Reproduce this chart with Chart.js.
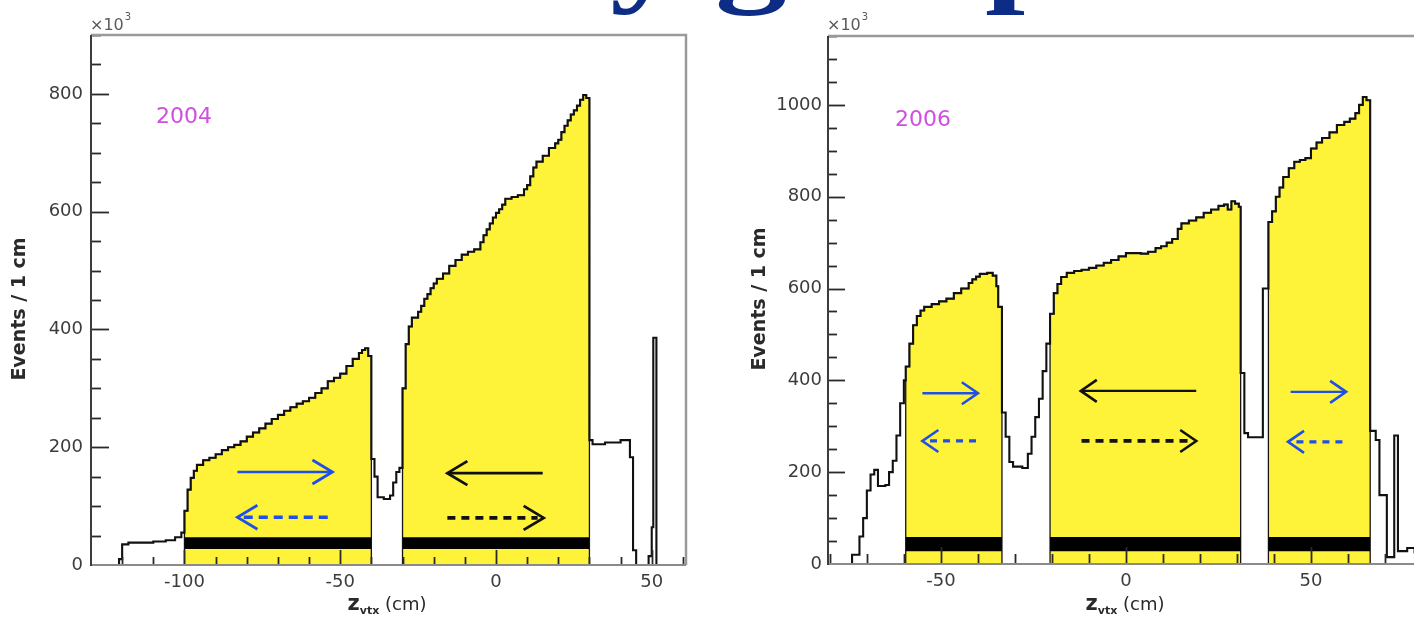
<!DOCTYPE html>
<html>
<head>
<meta charset="utf-8">
<title>z_vtx distributions 2004 / 2006</title>
<script src="https://cdn.jsdelivr.net/npm/chart.js@4.4.1/dist/chart.umd.min.js"></script>
<style>
  html, body { margin: 0; padding: 0; background: #fff; overflow: hidden; width: 1414px; height: 620px; }
  #wrap { position: relative; width: 1414px; height: 620px; overflow: hidden; }
  #c2004 { position: absolute; left: 0; top: 0; }
  #c2006 { position: absolute; left: 700px; top: 0; }
  #head { position: absolute; left: 0; top: 0; overflow: hidden; }
</style>
</head>
<body>
<div id="wrap">
  <canvas id="c2004" width="700" height="620"></canvas>
  <canvas id="c2006" width="760" height="620"></canvas>
  <svg id="head" width="1414" height="40" xmlns="http://www.w3.org/2000/svg">
    <text y="-9" transform="scale(1.25 1)" font-family="Liberation Serif" font-weight="bold" font-size="115" fill="#0c2c86"><tspan x="488">y</tspan><tspan x="572">g</tspan><tspan x="788">p</tspan></text>
  </svg>
</div>
<script>
// ---------- 2004: bin left edge (cm) and events per cm (x10^3) ----------
const z2004 = [-130, -121, -120, -118, -114, -110, -106, -103, -101, -100,
  -99, -98, -97, -96, -94, -92, -90, -88, -86, -84,
  -82, -80, -78, -76, -74, -72, -70, -68, -66, -64,
  -62, -60, -58, -56, -54, -52, -50, -48, -46, -44,
  -43, -42, -41, -40, -39, -38, -36, -34, -33, -32,
  -31, -30, -29, -28, -27, -25, -24, -23, -22, -21,
  -20, -19, -17, -15, -13, -11, -9, -7, -5, -4,
  -3, -2, -1, 0, 1, 2, 3, 5, 7, 9,
  10, 11, 12, 13, 15, 17, 19, 20, 21, 22,
  23, 24, 25, 26, 27, 28, 29, 30, 31, 35,
  40, 43, 44, 45, 49, 50, 50.5, 51.5, 61];
const ev2004 = [0, 10, 35, 38, 38, 40, 42, 47, 55, 92,
  128, 148, 160, 170, 178, 182, 188, 195, 200, 204,
  210, 218, 225, 232, 240, 248, 255, 262, 268, 274,
  278, 284, 292, 300, 312, 318, 325, 338, 350, 360,
  365, 368, 355, 180, 150, 115, 112, 118, 140, 158,
  165, 300, 375, 405, 420, 430, 440, 452, 460, 470,
  478, 486, 495, 508, 518, 527, 532, 536, 548, 560,
  570, 580, 590, 598, 604, 612, 622, 625, 628, 638,
  645, 660, 675, 685, 695, 708, 716, 722, 735, 746,
  755, 765, 772, 780, 790, 798, 793, 212, 205, 208,
  212, 183, 25, 0, 15, 64, 386, 0, 0];
const cells2004 = [[-100, -40], [-30, 30]];
const band2004 = [27, 47];
const xTicks2004 = [-100, -50, 0, 50];
const yTicks2004 = [0, 200, 400, 600, 800];

// ---------- 2006 ----------
const z2006 = [-80.5, -74, -72, -71, -70, -69, -68, -67, -65, -64,
  -63, -62, -61, -60, -59.5, -58.5, -57.5, -56.5, -55.5, -54.5,
  -52.5, -50.5, -48.5, -46.5, -44.5, -42.5, -41.5, -40.5, -39.5, -37.5,
  -36, -35, -34.5, -33.5, -32.5, -31.5, -30.5, -28, -26.5, -25.5,
  -24.5, -23.5, -22.5, -21.5, -20.5, -19.5, -18.5, -17.5, -16, -14,
  -12, -10, -8, -6, -4, -2, 0, 2, 4, 6,
  8, 9.5, 11, 12.5, 14, 15, 17, 19, 21, 23,
  25, 26.5, 27.5, 28.5, 29.5, 30.5, 31, 32, 33, 37,
  38.5, 39.5, 40.5, 41.5, 42.5, 44, 45.5, 47, 48.5, 50,
  51.5, 53, 55, 57, 59, 60.5, 62, 63, 64, 65,
  66, 67.5, 68.5, 70.5, 72.5, 73.5, 76, 78, 80];
const ev2006 = [0, 20, 60, 100, 160, 195, 205, 170, 172, 200,
  225, 280, 350, 400, 430, 480, 520, 540, 552, 560,
  566, 572, 578, 590, 600, 612, 620, 626, 632, 634,
  628, 605, 560, 330, 277, 222, 212, 209, 240, 277,
  320, 360, 420, 480, 545, 590, 610, 625, 634, 638,
  641, 645, 650, 656, 662, 670, 677, 677, 676, 680,
  688, 692, 700, 708, 730, 742, 748, 755, 765, 772,
  780, 783, 772, 790, 785, 778, 416, 285, 276, 600,
  745, 768, 800, 820, 843, 862, 876, 880, 884, 905,
  918, 928, 940, 956, 963, 970, 982, 1000, 1017, 1010,
  290, 270, 150, 15, 280, 28, 35, 25, 25];
const cells2006 = [[-59.5, -33.5], [-20.5, 31], [38.5, 66]];
const band2006 = [28, 59];
const xTicks2006 = [-50, 0, 50];
const yTicks2006 = [0, 200, 400, 600, 800, 1000];

// ---------- polarisation arrows: [tail z, head z, height x10^3] ----------
const blueSolid2004 = [[-83, -52.5, 158]];
const blueDash2004 = [[-54, -83, 81]];
const blackSolid2004 = [[15, -15.6, 156]];
const blackDash2004 = [[-15.6, 15.3, 80]];

const blueSolid2006 = [[-55, -40, 372], [44.5, 59.5, 375]];
const blueDash2006 = [[-40.5, -55, 268], [58.5, 43.8, 266]];
const blackSolid2006 = [[19, -12.2, 377]];
const blackDash2006 = [[-12, 19, 268]];

// ---------- helpers building the library datasets ----------
function histPoints(z, ev) {
  return z.map((x, i) => ({ x, y: ev[i] }));
}
function cellFill(z, ev, cells) {
  const pts = [];
  cells.forEach(([a, b]) => {
    pts.push({ x: a, y: 0 });
    let last = 0;
    z.forEach((x, i) => {
      if (x >= a && x < b) { pts.push({ x, y: ev[i] }); last = ev[i]; }
    });
    pts.push({ x: b, y: last }, { x: b, y: 0 }, { x: b, y: null });
  });
  return pts;
}
function cellBand(cells, hi) {
  const pts = [];
  cells.forEach(([a, b]) => pts.push({ x: a, y: hi }, { x: b, y: hi }, { x: b, y: null }));
  return pts;
}

// ---------- plugins ----------
const framePlugin = {
  id: 'frame',
  afterDatasetsDraw(chart, args, o) {
    const { ctx, chartArea: a, scales: { x, y } } = chart;
    ctx.save();
    ctx.lineCap = 'butt';
    // inside tick marks
    ctx.strokeStyle = o.tickColor;
    ctx.lineWidth = 1.8;
    for (let v = o.yMinor; v <= y.max; v += o.yMinor) {
      const py = Math.round(y.getPixelForValue(v)) + 0.5;
      const len = (v % o.yMajor === 0) ? o.yMajorLen : o.yMinorLen;
      ctx.beginPath(); ctx.moveTo(a.left, py); ctx.lineTo(a.left + len, py); ctx.stroke();
    }
    for (let v = Math.ceil(x.min / o.xMinor) * o.xMinor; v <= x.max; v += o.xMinor) {
      const px = Math.round(x.getPixelForValue(v)) + 0.5;
      if (px <= a.left + 2 || px >= a.right - 1) continue;
      const len = (v % o.xMajor === 0) ? o.xMajorLen : o.xMinorLen;
      ctx.beginPath(); ctx.moveTo(px, a.bottom); ctx.lineTo(px, a.bottom - len); ctx.stroke();
    }
    // frame: top / right in grey, axes left / bottom darker
    ctx.strokeStyle = '#9a9a9a';
    ctx.lineWidth = 2.5;
    ctx.beginPath(); ctx.moveTo(a.left, a.top); ctx.lineTo(a.right, a.top); ctx.lineTo(a.right, a.bottom); ctx.stroke();
    ctx.strokeStyle = '#8a8a8a';
    ctx.lineWidth = 2;
    ctx.beginPath(); ctx.moveTo(a.left, a.bottom); ctx.lineTo(a.right, a.bottom); ctx.stroke();
    ctx.strokeStyle = '#3c3c3c';
    ctx.beginPath(); ctx.moveTo(a.left, a.top); ctx.lineTo(a.left, a.bottom + 1); ctx.stroke();
    ctx.restore();
  }
};

const arrowPlugin = {
  id: 'arrows',
  afterDatasetsDraw(chart, args, o) {
    const { ctx, scales: { x, y } } = chart;
    ctx.save();
    ctx.lineCap = 'butt';
    ctx.lineJoin = 'miter';
    o.sets.forEach(s => {
      s.data.forEach(([z0, z1, h]) => {
        const x0 = x.getPixelForValue(z0), x1 = x.getPixelForValue(z1);
        const py = y.getPixelForValue(h);
        const dir = Math.sign(x1 - x0);
        ctx.strokeStyle = s.color;
        ctx.lineWidth = s.width;
        ctx.setLineDash(s.dash);
        ctx.beginPath(); ctx.moveTo(x0, py); ctx.lineTo(x1 - dir * (s.dash.length ? 6 : 1), py); ctx.stroke();
        ctx.setLineDash([]);
        ctx.lineWidth = s.headWidth;
        ctx.beginPath();
        ctx.moveTo(x1 - dir * o.headLen, py - o.headHalf);
        ctx.lineTo(x1, py);
        ctx.lineTo(x1 - dir * o.headLen, py + o.headHalf);
        ctx.stroke();
      });
    });
    ctx.restore();
  }
};

const textPlugin = {
  id: 'texts',
  afterDraw(chart, args, o) {
    const { ctx, chartArea: a } = chart;
    ctx.save();
    // y axis title
    ctx.fillStyle = '#2a2a2a';
    ctx.font = 'bold 19px "DejaVu Sans"';
    ctx.textAlign = 'center';
    ctx.textBaseline = 'middle';
    ctx.translate(a.left - o.yTitleOff, (a.top + a.bottom) / 2 + o.yTitleShift);
    ctx.rotate(-Math.PI / 2);
    ctx.fillText('Events / 1 cm', 0, 0);
    ctx.setTransform(1, 0, 0, 1, 0, 0);
    // x axis title: z_vtx (cm)
    ctx.textBaseline = 'alphabetic';
    ctx.textAlign = 'left';
    const fZ = 'bold 21px "DejaVu Sans"', fSub = 'bold 11px "DejaVu Sans"', fCm = '18px "DejaVu Sans"';
    ctx.font = fZ; const wZ = ctx.measureText('z').width;
    ctx.font = fSub; const wS = ctx.measureText('vtx').width;
    ctx.font = fCm; const wC = ctx.measureText(' (cm)').width;
    let tx = o.xTitleX - (wZ + wS + wC) / 2;
    const by = 610;
    ctx.font = fZ; ctx.fillText('z', tx, by); tx += wZ;
    ctx.font = fSub; ctx.fillText('vtx', tx, by + 4); tx += wS;
    ctx.font = fCm; ctx.fillText(' (cm)', tx, by);
    // exponent marker
    ctx.fillStyle = '#5a5a5a';
    ctx.font = '16px "DejaVu Sans"';
    ctx.fillText('\u00d710', a.left - 1, 30);
    const wE = ctx.measureText('\u00d710').width;
    ctx.font = '10px "DejaVu Sans"';
    ctx.fillText('3', a.left - 1 + wE + 1, 20);
    // year label
    ctx.fillStyle = '#cf4fe0';
    ctx.font = '22px "DejaVu Sans"';
    ctx.textBaseline = 'middle';
    ctx.fillText(o.year, a.left + o.yearDx, o.yearY);
    ctx.restore();
  }
};

// ---------- chart factory ----------
function makePanel(canvas, p) {
  const datasets = [
    {
      data: cellFill(p.z, p.ev, p.cells),
      stepped: 'before', fill: 'origin', spanGaps: false,
      backgroundColor: '#fff33a', borderColor: '#151515', borderWidth: 1.3,
      pointRadius: 0, order: 3
    },
    {
      data: cellBand(p.cells, p.band[1]),
      fill: { value: p.band[0] }, spanGaps: false,
      backgroundColor: '#000', borderColor: '#000', borderWidth: 0,
      pointRadius: 0, order: 2
    },
    {
      data: histPoints(p.z, p.ev),
      stepped: 'before', fill: false,
      borderColor: '#111', borderWidth: 2.1,
      pointRadius: 0, order: 1
    }
  ];
  const tickFont = { family: 'DejaVu Sans', size: 18 };
  return new Chart(canvas, {
    type: 'line',
    data: { datasets },
    options: {
      responsive: false, animation: false, devicePixelRatio: 1,
      events: [],
      layout: { padding: { left: 0, top: p.top, right: p.right, bottom: 0 } },
      plugins: {
        legend: { display: false }, tooltip: { enabled: false },
        frame: p.ticks,
        arrows: { sets: p.arrows, headLen: p.headLen, headHalf: p.headHalf },
        texts: { year: p.year, yearDx: p.yearDx, yearY: p.yearY, yTitleOff: p.yTitleOff,
                 yTitleShift: p.yTitleShift, xTitleX: p.xTitleX }
      },
      scales: {
        x: {
          type: 'linear', min: p.xMin, max: p.xMax,
          grid: { display: false, drawTicks: false }, border: { display: false },
          ticks: { font: tickFont, color: '#3c3c3c', padding: p.xPad, maxRotation: 0, autoSkip: false,
                   callback: v => String(v) },
          afterBuildTicks: s => { s.ticks = p.xTicks.map(v => ({ value: v })); },
          afterFit: s => { s.height = 620 - p.bottom; }
        },
        y: {
          type: 'linear', min: 0, max: p.yMax,
          grid: { display: false, drawTicks: false }, border: { display: false },
          ticks: { font: tickFont, color: '#3c3c3c', padding: p.yPad, callback: v => String(v) },
          afterBuildTicks: s => { s.ticks = p.yTicks.map(v => ({ value: v })); },
          afterFit: s => { s.width = p.left; }
        }
      }
    },
    plugins: [framePlugin, arrowPlugin, textPlugin]
  });
}

const BLUE = '#1f4fe6';
const BLACK = '#111';

makePanel(document.getElementById('c2004'), {
  z: z2004, ev: ev2004, cells: cells2004, band: band2004,
  xTicks: xTicks2004, yTicks: yTicks2004,
  xMin: -130, xMax: 61, yMax: 900,
  left: 91, top: 35, right: 14, bottom: 565,
  xPad: 7, yPad: 8,
  ticks: { tickColor: '#2a2a2a', yMajor: 200, yMinor: 50, yMajorLen: 18, yMinorLen: 10,
           xMajor: 50, xMinor: 10, xMajorLen: 15, xMinorLen: 8 },
  arrows: [
    { data: blueSolid2004, color: BLUE, width: 2.6, dash: [], headWidth: 2.8 },
    { data: blueDash2004, color: BLUE, width: 3.6, dash: [9, 6], headWidth: 2.8 },
    { data: blackSolid2004, color: BLACK, width: 2.6, dash: [], headWidth: 2.8 },
    { data: blackDash2004, color: BLACK, width: 3.8, dash: [8, 6], headWidth: 2.8 }
  ],
  headLen: 20, headHalf: 12,
  year: '2004', yearDx: 65, yearY: 117,
  yTitleOff: 71, yTitleShift: 9, xTitleX: 387
});

makePanel(document.getElementById('c2006'), {
  z: z2006, ev: ev2006, cells: cells2006, band: band2006,
  xTicks: xTicks2006, yTicks: yTicks2006,
  xMin: -80.5, xMax: 80, yMax: 1150,
  left: 128, top: 36, right: 38, bottom: 564,
  xPad: 7, yPad: 6,
  ticks: { tickColor: '#2a2a2a', yMajor: 200, yMinor: 50, yMajorLen: 17, yMinorLen: 9,
           xMajor: 50, xMinor: 10, xMajorLen: 17, xMinorLen: 10 },
  arrows: [
    { data: blueSolid2006, color: BLUE, width: 2.4, dash: [], headWidth: 2.6 },
    { data: blueDash2006, color: BLUE, width: 3.2, dash: [7, 6], headWidth: 2.6 },
    { data: blackSolid2006, color: BLACK, width: 2.4, dash: [], headWidth: 2.6 },
    { data: blackDash2006, color: BLACK, width: 3.8, dash: [8, 6], headWidth: 2.6 }
  ],
  headLen: 16, headHalf: 11,
  year: '2006', yearDx: 67, yearY: 120,
  yTitleOff: 68, yTitleShift: -1, xTitleX: 1125 - 700
});
</script>
</body>
</html>
